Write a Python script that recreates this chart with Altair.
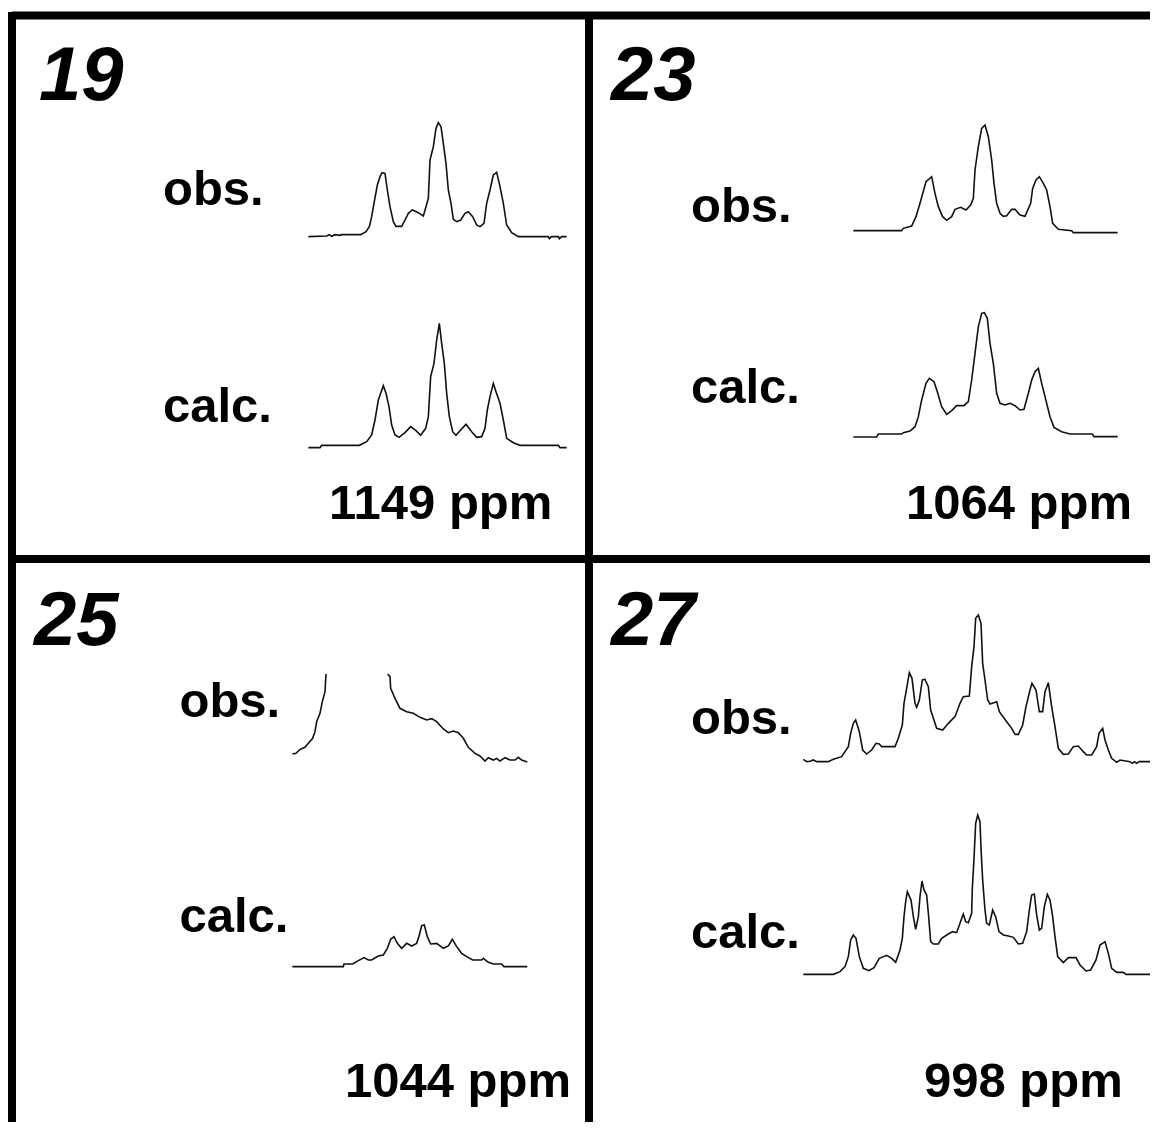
import altair as alt
import pandas as pd

# Spectra as flat readings: x, y, x, y ... on a third-of-a-pixel grid, relative to each panel's origin
s19_obs = [55,410,110,408,118,404,125,409,135,404,150,406,155,404,212,404,228,395,238,380,245,350,252,310,262,255,270,230,276,218,285,220,292,270,300,320,310,365,318,379,335,379,345,360,355,340,367,330,385,338,400,348,408,320,415,295,420,180,430,140,438,85,445,68,453,80,460,130,468,190,475,270,483,310,490,358,500,365,512,360,525,340,535,335,548,350,560,375,570,380,582,370,590,310,600,270,610,225,620,217,630,260,640,310,650,375,665,398,685,410,775,410,778,416,785,410,805,410,808,416,815,410,830,410]
s19_calc = [55,1043,90,1043,95,1036,208,1036,230,1025,245,1005,255,960,265,900,272,880,280,857,288,880,297,920,305,975,315,1005,327,1012,345,998,362,980,378,992,392,1006,407,985,415,950,422,830,432,790,440,720,448,670,455,730,463,790,470,880,478,950,488,995,498,1006,512,990,528,973,545,995,560,1012,575,1010,585,985,592,930,600,890,610,850,618,875,630,910,640,960,650,1015,670,1028,690,1036,805,1036,810,1043,830,1043]
s23_obs = [40,392,185,392,190,385,215,378,228,350,240,310,258,245,275,230,285,280,295,320,308,350,320,361,335,350,345,328,362,322,378,330,392,315,400,295,405,210,415,140,425,85,435,75,445,110,455,180,462,250,470,310,480,340,490,349,500,347,515,328,525,328,540,345,555,349,572,310,578,265,588,240,598,230,610,250,620,270,630,320,638,370,655,388,695,392,700,398,833,398]
s23_calc = [40,1011,110,1011,115,1002,185,1002,190,998,210,993,225,980,235,950,245,900,258,850,268,835,282,845,292,875,305,920,320,943,335,932,350,917,372,917,385,905,395,840,405,760,415,680,425,640,433,638,442,655,450,730,460,790,470,880,480,910,495,915,510,910,525,917,540,930,552,928,565,880,575,840,585,815,595,805,605,850,615,890,630,950,642,982,665,995,690,1002,757,1002,762,1010,833,1010]
s25_obs_a = [37,282,48,280,60,268,75,262,85,250,98,235,105,215,110,185,120,160,127,125,135,95,138,42]
s25_obs_b = [323,42,330,50,332,85,345,115,360,145,380,155,400,160,420,172,440,180,455,176,470,185,490,207,505,218,520,213,535,218,550,235,565,262,585,280,600,288,615,303,625,293,640,300,650,295,660,303,675,293,690,300,705,300,715,292,725,300,742,306]
s25_calc = [37,920,190,920,192,912,218,912,235,902,252,893,265,900,275,900,295,888,310,885,322,865,332,838,342,830,352,850,365,865,380,850,395,858,410,850,418,825,425,797,433,795,442,830,452,852,470,850,490,865,505,858,517,838,530,860,545,880,560,890,578,900,605,900,610,895,625,907,640,912,665,912,672,920,742,920]
s27_obs = [10,478,20,485,30,484,40,480,50,485,85,485,100,478,125,470,145,440,152,400,160,370,167,360,178,395,188,450,200,462,215,450,228,430,238,432,245,440,285,440,295,415,307,375,312,310,320,265,328,218,336,235,345,310,350,322,358,300,367,240,375,238,385,260,392,330,410,385,428,390,445,370,465,350,480,310,490,290,508,288,515,200,522,140,527,55,535,45,543,70,548,190,555,240,563,300,570,312,590,305,598,335,620,365,635,385,645,403,655,403,668,375,678,320,690,270,696,250,708,270,718,335,728,335,735,275,745,248,755,320,765,380,775,445,790,463,805,462,820,440,835,438,850,455,860,465,875,465,890,440,897,400,908,385,915,420,925,450,935,475,950,487,960,480,990,485,997,490,1003,485,1010,490,1018,485,1050,485]
s27_calc = [10,523,100,523,120,515,135,500,145,470,152,420,160,405,168,415,178,470,190,505,207,512,222,503,238,475,260,466,275,475,287,487,300,450,307,415,312,350,317,305,322,275,333,300,340,350,347,388,355,350,360,290,366,243,372,270,380,285,386,350,392,425,400,432,415,432,425,415,445,402,458,395,470,398,480,370,490,342,497,365,505,368,515,340,517,265,522,175,527,70,533,45,540,65,543,145,548,240,555,330,560,370,568,375,578,330,587,350,597,395,610,405,625,408,640,412,655,432,668,430,680,395,688,330,695,285,703,282,710,345,718,390,725,385,733,320,742,283,750,300,758,350,765,410,773,470,790,488,805,473,828,473,840,495,858,513,872,510,888,480,900,435,915,425,925,460,935,505,950,517,970,517,978,523,1050,523]

spectra = [
    ("19 obs", s19_obs, 290, 100), ("19 calc", s19_calc, 290, 100),
    ("23 obs", s23_obs, 840, 100), ("23 calc", s23_calc, 840, 100),
    ("25 obs a", s25_obs_a, 280, 660), ("25 obs b", s25_obs_b, 280, 660),
    ("25 calc", s25_calc, 280, 660),
    ("27 obs", s27_obs, 800, 600), ("27 calc", s27_calc, 800, 800),
]

numbers = ["19", "23", "25", "27"]
number_x = [39, 611, 34, 611]
number_y = [100, 100, 645, 645]
captions = ["obs.", "calc.", "obs.", "calc.", "obs.", "calc.", "obs.", "calc.",
            "1149 ppm", "1064 ppm", "1044 ppm", "998 ppm"]
caption_x = [163, 163, 691, 691, 179.5, 179.5, 691, 691, 329, 906, 345, 924]
caption_y = [205, 422, 222, 403, 717, 932, 734, 948, 519, 519, 1097, 1097]

h_rule_y = [15.5, 559]
h_rule_x = [12, 12]
h_rule_x2 = [1150, 1150]
v_rule_x = [12, 589]
v_rule_y = [12, 12]
v_rule_y2 = [1122, 1122]

rows = []
for name, flat, ox, oy in spectra:
    for i in range(0, len(flat), 2):
        rows.append({"s": name, "i": i, "x": ox + flat[i] / 3, "y": oy + flat[i + 1] / 3})
spec_df = pd.DataFrame(rows)

X = alt.Scale(domain=[8, 1150], nice=False, zero=False)
Y = alt.Scale(domain=[8, 1122], reverse=True, nice=False, zero=False)
x_enc = alt.X("x:Q", scale=X, axis=None)
y_enc = alt.Y("y:Q", scale=Y, axis=None)

lines = alt.Chart(spec_df).mark_line(color="#111111", strokeWidth=1.6, clip=True).encode(
    x=x_enc, y=y_enc, detail="s:N", order="i:Q")

h_rules = alt.Chart(pd.DataFrame({"x": h_rule_x, "x2": h_rule_x2, "y": h_rule_y})).mark_rule(
    color="black", strokeWidth=8).encode(x=x_enc, x2="x2:Q", y=y_enc)
v_rules = alt.Chart(pd.DataFrame({"x": v_rule_x, "y": v_rule_y, "y2": v_rule_y2})).mark_rule(
    color="black", strokeWidth=8).encode(x=x_enc, y=y_enc, y2="y2:Q")

num_text = alt.Chart(pd.DataFrame({"x": number_x, "y": number_y, "t": numbers})).mark_text(
    font="Liberation Sans", fontWeight="bold", fontStyle="italic", fontSize=76,
    align="left", baseline="alphabetic", color="black").encode(x=x_enc, y=y_enc, text="t:N")
cap_text = alt.Chart(pd.DataFrame({"x": caption_x, "y": caption_y, "t": captions})).mark_text(
    font="Liberation Sans", fontWeight="bold", fontSize=49,
    align="left", baseline="alphabetic", color="black").encode(x=x_enc, y=y_enc, text="t:N")

chart = alt.layer(h_rules, v_rules, lines, num_text, cap_text).properties(
    width=1142, height=1114, padding=0,
    autosize=alt.AutoSizeParams(type="none"),
    background="white",
).configure_view(stroke=None)

chart.save("out.html", embed_options={"renderer": "svg", "actions": False})
